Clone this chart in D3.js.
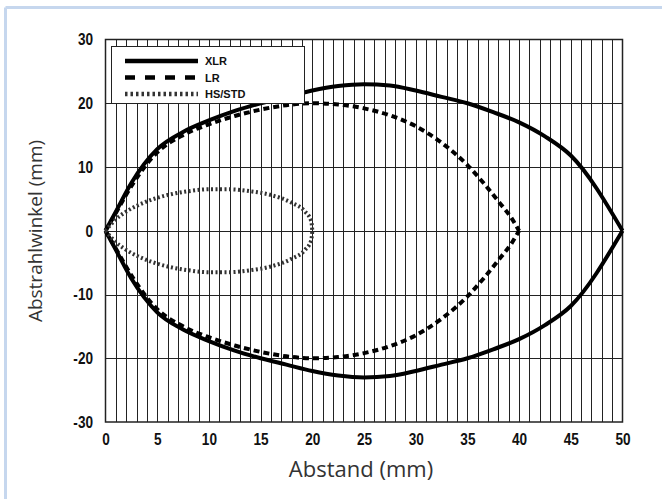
<!DOCTYPE html>
<html>
<head>
<meta charset="utf-8">
<script src="https://cdn.jsdelivr.net/npm/d3@7"></script>
<style>
  html, body { margin: 0; padding: 0; background: #fff; }
  svg { display: block; }
</style>
</head>
<body>
<svg id="chart" width="662" height="499"></svg>
<script>
// Abstand (mm) -> Abstrahlwinkel (mm), upper half of each detection field (lower half is mirrored)
const xlrX = [0, 1, 2.5, 5, 7.5, 10, 12.5, 15, 17.5, 20, 22.5, 25, 27.5, 30, 32.5, 35, 37.5, 40, 42.5, 45, 50];
const xlrY = [0, 3, 7.5, 12.8, 15.5, 17.3, 18.8, 20.0, 21.0, 22.0, 22.7, 23.0, 22.8, 22.0, 21.0, 20.0, 18.6, 17.0, 14.8, 11.8, 0];

const lrX = [0, 1, 2.5, 5, 7.5, 10, 12.5, 15, 17.5, 20, 22.5, 25, 27.5, 30, 32.5, 35, 36.5, 38, 39.3, 40];
const lrY = [0, 2.8, 7, 12.3, 15.0, 16.7, 18.0, 19.0, 19.7, 20.0, 19.8, 19.2, 18.1, 16.4, 13.8, 10.3, 7.6, 4.6, 1.9, 0];

const hsX = [0, 1, 2, 4, 6, 8, 10, 11, 12, 14, 16, 18, 19.3, 19.9, 20];
const hsY = [0, 1.8, 3.0, 4.6, 5.6, 6.2, 6.5, 6.5, 6.5, 6.2, 5.6, 4.4, 3.0, 1.5, 0];

const xTicks = [0, 5, 10, 15, 20, 25, 30, 35, 40, 45, 50];
const yTicks = [-30, -20, -10, 0, 10, 20, 30];
const seriesNames = ["XLR", "LR", "HS/STD"];

const svg = d3.select("#chart");

// page frame
svg.append("line").attr("x1", 5.5).attr("x2", 662).attr("y1", 7.5).attr("y2", 7.5)
  .attr("stroke", "#c6d7ee").attr("stroke-width", 3);
svg.append("line").attr("x1", 5.5).attr("x2", 5.5).attr("y1", 7.5).attr("y2", 499)
  .attr("stroke", "#c6d7ee").attr("stroke-width", 3);

const plot = { left: 105.5, right: 622.5, top: 39.5, bottom: 422 };
const x = d3.scaleLinear().domain([0, 50]).range([plot.left, plot.right]);
const y = d3.scaleLinear().domain([-30, 30]).range([plot.bottom, plot.top]);

// vertical gridlines every millimetre
svg.append("g").selectAll("line").data(d3.range(1, 50)).join("line")
  .attr("x1", d => Math.round(x(d)) + 0.5).attr("x2", d => Math.round(x(d)) + 0.5)
  .attr("y1", plot.top).attr("y2", plot.bottom)
  .attr("stroke", "#222").attr("stroke-width", 1);

// horizontal gridlines every 10
svg.append("g").selectAll("line").data(yTicks.slice(1, -1)).join("line")
  .attr("x1", plot.left).attr("x2", plot.right)
  .attr("y1", d => Math.round(y(d)) + 0.5).attr("y2", d => Math.round(y(d)) + 0.5)
  .attr("stroke", "#222").attr("stroke-width", 1);

// plot border
svg.append("rect").attr("x", plot.left).attr("y", plot.top)
  .attr("width", plot.right - plot.left).attr("height", plot.bottom - plot.top)
  .attr("fill", "none").attr("stroke", "#222").attr("stroke-width", 1.5);

// axes (labels only), bold condensed numerals
const tickFont = "'Liberation Sans', Arial, sans-serif";
const fmt = d => String(d);
const xAxis = svg.append("g").attr("transform", `translate(0,${plot.bottom})`)
  .call(d3.axisBottom(x).tickValues(xTicks).tickFormat(fmt).tickSize(0).tickPadding(11));
const yAxis = svg.append("g").attr("transform", `translate(${plot.left},0)`)
  .call(d3.axisLeft(y).tickValues(yTicks).tickFormat(fmt).tickSize(0));
[xAxis, yAxis].forEach(g => {
  g.select(".domain").remove();
  g.selectAll("text").attr("font-family", tickFont).attr("font-weight", "bold")
    .attr("font-size", 17).attr("fill", "#111");
});
xAxis.selectAll("text").attr("transform", "scale(0.8,1)");
yAxis.selectAll("text").attr("x", -12.5 / 0.8).attr("transform", "scale(0.8,1)");

// axis titles
const titleFont = "'Open Sans', 'Noto Sans', sans-serif";
svg.append("text").attr("x", 361).attr("y", 477).attr("text-anchor", "middle")
  .attr("font-family", titleFont).attr("font-size", 22).attr("fill", "#333")
  .text("Abstand (mm)");
svg.append("text").attr("transform", "translate(42,231) rotate(-90)").attr("text-anchor", "middle")
  .attr("font-family", titleFont).attr("font-size", 19).attr("fill", "#333")
  .text("Abstrahlwinkel (mm)");

const line = d3.line().x(d => x(d[0])).y(d => y(d[1])).curve(d3.curveMonotoneX);

const styles = [
  { dash: null, color: "#000", width: 4 },
  { dash: "6,4", color: "#000", width: 4 },
  { dash: "2,2.5", color: "#333", width: 4 }
];
const series = [[xlrX, xlrY], [lrX, lrY], [hsX, hsY]];

// each field drawn as its upper half and mirrored lower half
series.forEach(([xs, ys], i) => {
  [1, -1].forEach(sign => {
    svg.append("path")
      .datum(xs.map((v, k) => [v, sign * ys[k]]))
      .attr("d", line)
      .attr("fill", "none")
      .attr("stroke", styles[i].color)
      .attr("stroke-width", styles[i].width)
      .attr("stroke-dasharray", styles[i].dash)
      .attr("stroke-linejoin", "round");
  });
});

// legend
const lg = svg.append("g");
lg.append("rect").attr("x", 111.5).attr("y", 46.5).attr("width", 193).attr("height", 57)
  .attr("fill", "#fff").attr("stroke", "#222").attr("stroke-width", 1);
const legendDash = [null, "10,10", "2.5,3"];
seriesNames.forEach((name, i) => {
  const ly = 61 + i * 16.5;
  lg.append("line").attr("x1", 125).attr("x2", 198).attr("y1", ly).attr("y2", ly)
    .attr("stroke", styles[i].color).attr("stroke-width", 4.5)
    .attr("stroke-dasharray", legendDash[i]);
  lg.append("text").attr("x", 205).attr("y", ly + 4).attr("font-family", "'Liberation Sans', Arial, sans-serif")
    .attr("font-weight", "bold").attr("font-size", 11).attr("fill", "#111").text(name);
});
</script>
</body>
</html>
